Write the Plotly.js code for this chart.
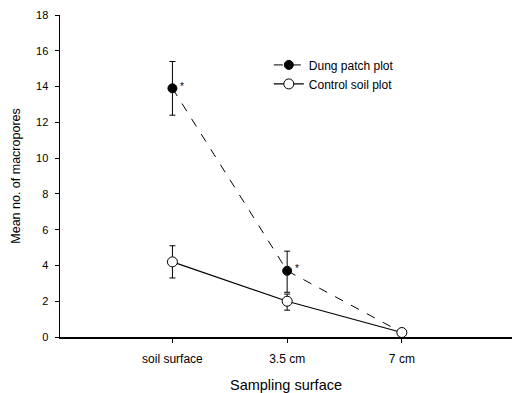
<!DOCTYPE html>
<html><head><meta charset="utf-8">
<script src="https://cdn.plot.ly/plotly-3.0.1.min.js"></script>
<style>html,body{margin:0;padding:0;background:#fff}#c{width:512px;height:393px}</style>
</head><body><div id="c"></div>
<script>
const categories = ["soil surface", "3.5 cm", "7 cm"];
const dungMean = [13.9, 3.7, 0.25];
const dungErrPlus = [1.5, 1.1, 0];
const dungErrMinus = [1.5, 1.2, 0];
const controlMean = [4.2, 2.0, 0.25];
const controlErrPlus = [0.9, 0.4, 0];
const controlErrMinus = [0.9, 0.5, 0];
const significant = [true, true, false];
const yTicks = [0, 2, 4, 6, 8, 10, 12, 14, 16, 18];
const xIdx = categories.map((c, i) => i);

const font = {family: "Liberation Sans, Arial, sans-serif", color: "#000"};

const traces = [
  {
    x: xIdx, y: dungMean, name: "Dung patch plot", type: "scatter", mode: "lines+markers",
    line: {color: "#000", width: 1, dash: "dash", shape: "linear"},
    marker: {symbol: "circle", size: 9, color: "#000", line: {color: "#000", width: 1}},
    error_y: {type: "data", symmetric: false, array: dungErrPlus, arrayminus: dungErrMinus,
      color: "#000", thickness: 1, width: 3}
  },
  {
    x: xIdx, y: controlMean, name: "Control soil plot", type: "scatter", mode: "lines+markers",
    line: {color: "#000", width: 1.2, shape: "linear"},
    marker: {symbol: "circle", size: 10, color: "#fff", line: {color: "#000", width: 1}},
    error_y: {type: "data", symmetric: false, array: controlErrPlus, arrayminus: controlErrMinus,
      color: "#000", thickness: 1, width: 3}
  }
];

const annotations = [];
significant.forEach((s, i) => {
  if (s) annotations.push({x: xIdx[i], y: dungMean[i], text: "*", showarrow: false,
    xshift: 10, yshift: 2, font: {family: font.family, color: "#000", size: 10}});
});

const layout = {
  width: 512, height: 393,
  margin: {l: 60, r: 0, t: 15, b: 56},
  paper_bgcolor: "#fff", plot_bgcolor: "#fff",
  font: Object.assign({}, font, {size: 11}),
  showlegend: true,
  legend: {x: 0.462, y: 0.89, xanchor: "left", yanchor: "top", bgcolor: "rgba(0,0,0,0)",
    font: Object.assign({}, font, {size: 12}), tracegroupgap: 0},
  xaxis: {
    range: [-0.98, 2.96], tickmode: "array", tickvals: xIdx, ticktext: categories,
    showline: true, linecolor: "#000", linewidth: 1.5, ticks: "outside", ticklen: 4, tickcolor: "#000",
    showgrid: false, zeroline: false, ticklabelstandoff: 6,
    tickfont: Object.assign({}, font, {size: 12}),
    title: {text: "Sampling surface", font: Object.assign({}, font, {size: 14.5}), standoff: 18}
  },
  yaxis: {
    range: [0, 18], tickvals: yTicks,
    showline: true, linecolor: "#000", linewidth: 1.5, ticks: "outside", ticklen: 4, tickcolor: "#000",
    showgrid: false, zeroline: false, ticklabelstandoff: 4,
    tickfont: Object.assign({}, font, {size: 11}),
    title: {text: "Mean no. of macropores", font: Object.assign({}, font, {size: 12.5}), standoff: 12}
  },
  annotations: annotations
};

Plotly.newPlot("c", traces, layout, {displayModeBar: false, staticPlot: true});
</script></body></html>
